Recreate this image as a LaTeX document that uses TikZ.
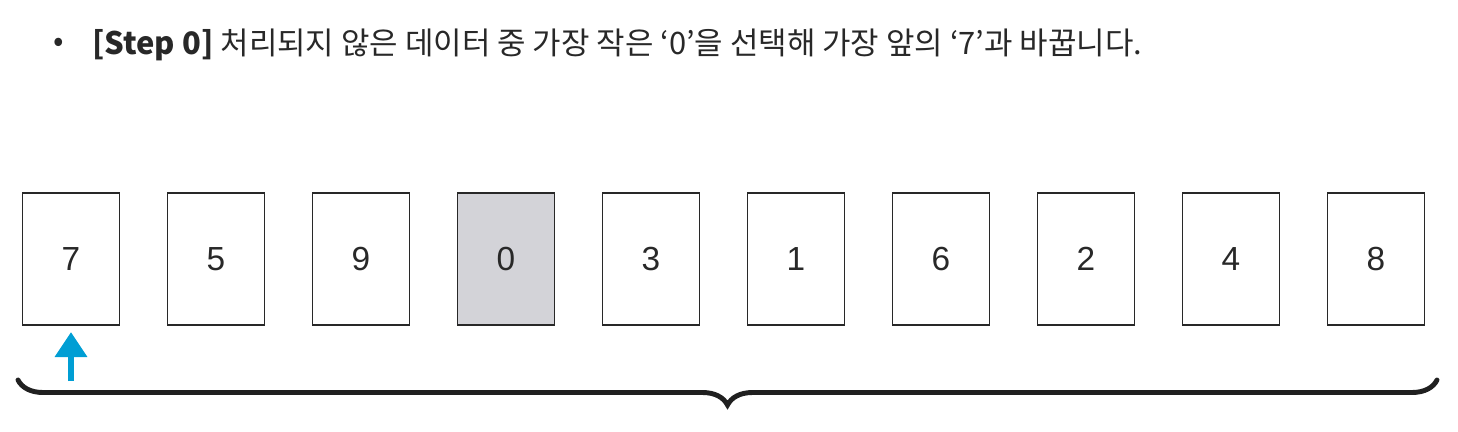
\documentclass[tikz,border=0pt]{standalone}
\usepackage{fontspec}
\usepackage{xcolor}
\setmainfont{Noto Sans CJK KR}
\newfontfamily\digitfont{Liberation Sans}
\usetikzlibrary{arrows.meta,positioning,decorations.pathreplacing}

\definecolor{cellgray}{RGB}{211,211,216}
\definecolor{ptrblue}{RGB}{0,158,212}
\definecolor{inkgray}{RGB}{40,40,40}

\begin{document}
\begin{tikzpicture}[
  cell/.style={draw=inkgray,line width=1.1pt,minimum width=1.94cm,minimum height=2.64cm,
    inner sep=0pt,outer sep=0pt,font=\digitfont\fontsize{19}{19}\selectfont,text=inkgray},
  chosen/.style={cell,fill=cellgray},
  ptr/.style={-{Triangle[width=0.62cm,length=0.5cm]},line width=0.13cm,ptrblue},
  node distance=0.96cm]
 \useasboundingbox (0,0) rectangle (29.16,8.62);

 % heading
 \node[anchor=west,font=\fontsize{17.6}{17.6}\selectfont,text=inkgray] (dot) at (0.95,7.72) {•};
 \node[anchor=west,font=\fontsize{17.6}{17.6}\selectfont,text=inkgray,inner sep=0pt] (title) at (1.84,7.72)
   {\textbf{[Step 0]} 처리되지 않은 데이터 중 가장 작은 ‘0’을 선택해 가장 앞의 ‘7’과 바꿉니다.};

 % data cells
 \node[cell] (c0) at (1.42,3.44) {7};
 \node[cell,right=of c0] (c1) {5};
 \node[cell,right=of c1] (c2) {9};
 \node[chosen,right=of c2] (c3) {0};
 \node[cell,right=of c3] (c4) {3};
 \node[cell,right=of c4] (c5) {1};
 \node[cell,right=of c5] (c6) {6};
 \node[cell,right=of c6] (c7) {2};
 \node[cell,right=of c7] (c8) {4};
 \node[cell,right=of c8] (c9) {8};

 % pointer
 \coordinate (base) at (1.42,1.0);
 \draw[ptr,shorten >=0.14cm] (base) -- (c0.south);

 % brace under the cells
 \coordinate (bl) at (0.36,1.02);
 \coordinate (br) at (28.74,1.02);
 \draw[decorate,decoration={brace,mirror,amplitude=0.5cm,raise=0pt},
   line width=2.8pt,line cap=round,inkgray!80!black] (bl) -- (br);
\end{tikzpicture}
\end{document}
